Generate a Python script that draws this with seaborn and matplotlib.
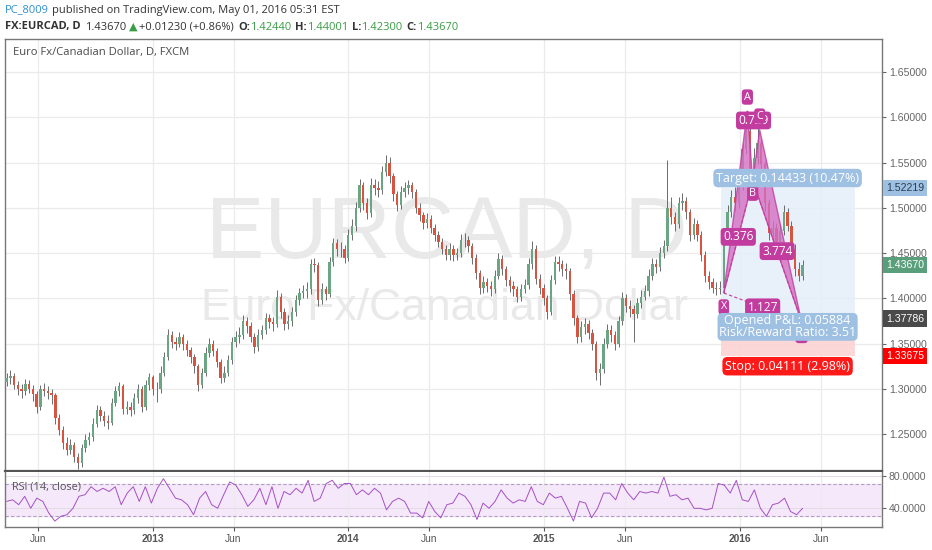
import numpy as np
import pandas as pd
import seaborn as sns
import matplotlib.pyplot as plt
import matplotlib.dates as mdates
import matplotlib.transforms as mtransforms
from matplotlib.patches import Rectangle, Polygon

# weekly candles
first_week = "2012-04-04"
first_open = 1.308
closes = [
    1.312, 1.315, 1.305, 1.300, 1.298, 1.306, 1.300, 1.295, 1.280, 1.300,
    1.298, 1.296, 1.293, 1.268, 1.255, 1.240, 1.233, 1.238, 1.225, 1.218,
    1.235, 1.244, 1.247, 1.262, 1.277, 1.270, 1.265, 1.263, 1.285, 1.298,
    1.303, 1.278, 1.280, 1.277, 1.290, 1.300, 1.280, 1.305, 1.313, 1.300,
    1.300, 1.318, 1.335, 1.360, 1.352, 1.350, 1.357, 1.350, 1.343, 1.335,
    1.325, 1.305, 1.318, 1.340, 1.350, 1.342, 1.330, 1.312, 1.318, 1.332,
    1.352, 1.358, 1.360, 1.375, 1.370, 1.358, 1.346, 1.360, 1.365, 1.378,
    1.374, 1.372, 1.402, 1.385, 1.372, 1.375, 1.385, 1.398, 1.406, 1.408,
    1.410, 1.438, 1.437, 1.398, 1.410, 1.405, 1.440, 1.461, 1.455, 1.455,
    1.445, 1.470, 1.480, 1.500, 1.525, 1.505, 1.494, 1.525, 1.522, 1.520,
    1.540, 1.550, 1.535, 1.515, 1.503, 1.518, 1.522, 1.525, 1.518, 1.500,
    1.492, 1.483, 1.488, 1.478, 1.470, 1.462, 1.455, 1.448, 1.455, 1.448,
    1.450, 1.465, 1.465, 1.458, 1.445, 1.428, 1.412, 1.418, 1.414, 1.410,
    1.425, 1.444, 1.432, 1.420, 1.414, 1.410, 1.402, 1.410, 1.415, 1.438,
    1.455, 1.422, 1.412, 1.400, 1.385, 1.420, 1.440, 1.438, 1.432, 1.430,
    1.405, 1.378, 1.358, 1.368, 1.372, 1.362, 1.350, 1.318, 1.322, 1.350,
    1.365, 1.360, 1.350, 1.375, 1.400, 1.392, 1.388, 1.383, 1.395, 1.402,
    1.408, 1.425, 1.438, 1.435, 1.450, 1.458, 1.500, 1.490, 1.482, 1.505,
    1.508, 1.495, 1.470, 1.482, 1.470, 1.448, 1.425, 1.418, 1.412, 1.410,
    1.412, 1.468, 1.495, 1.512, 1.505, 1.525, 1.565, 1.585, 1.540, 1.555,
    1.572, 1.548, 1.505, 1.472, 1.478, 1.462, 1.475, 1.495, 1.480, 1.455,
    1.432, 1.425, 1.4367,
]
highs = [
    1.318, 1.321, 1.318, 1.309, 1.306, 1.311, 1.310, 1.304, 1.298, 1.305,
    1.307, 1.303, 1.300, 1.296, 1.272, 1.259, 1.247, 1.245, 1.242, 1.229,
    1.239, 1.250, 1.253, 1.268, 1.282, 1.281, 1.276, 1.271, 1.290, 1.303,
    1.308, 1.306, 1.287, 1.286, 1.296, 1.306, 1.303, 1.310, 1.318, 1.316,
    1.308, 1.325, 1.341, 1.366, 1.364, 1.358, 1.363, 1.361, 1.354, 1.347,
    1.339, 1.328, 1.323, 1.346, 1.356, 1.354, 1.345, 1.333, 1.326, 1.338,
    1.357, 1.364, 1.368, 1.382, 1.380, 1.374, 1.362, 1.366, 1.371, 1.384,
    1.383, 1.380, 1.409, 1.406, 1.389, 1.382, 1.391, 1.404, 1.412, 1.415,
    1.418, 1.444, 1.445, 1.440, 1.417, 1.414, 1.446, 1.467, 1.466, 1.462,
    1.459, 1.477, 1.488, 1.507, 1.532, 1.529, 1.511, 1.533, 1.532, 1.530,
    1.546, 1.558, 1.556, 1.538, 1.519, 1.524, 1.529, 1.531, 1.529, 1.521,
    1.505, 1.496, 1.494, 1.492, 1.482, 1.474, 1.467, 1.459, 1.461, 1.459,
    1.456, 1.471, 1.472, 1.469, 1.461, 1.449, 1.431, 1.425, 1.423, 1.419,
    1.431, 1.450, 1.448, 1.436, 1.425, 1.419, 1.414, 1.416, 1.422, 1.445,
    1.463, 1.459, 1.427, 1.416, 1.404, 1.426, 1.447, 1.447, 1.443, 1.439,
    1.434, 1.409, 1.382, 1.375, 1.378, 1.376, 1.366, 1.353, 1.329, 1.356,
    1.372, 1.371, 1.364, 1.381, 1.407, 1.405, 1.398, 1.393, 1.401, 1.409,
    1.415, 1.432, 1.445, 1.444, 1.457, 1.465, 1.553, 1.512, 1.496, 1.512,
    1.516, 1.512, 1.499, 1.489, 1.487, 1.474, 1.452, 1.430, 1.423, 1.418,
    1.419, 1.474, 1.503, 1.520, 1.523, 1.532, 1.572, 1.607, 1.590, 1.566,
    1.589, 1.576, 1.552, 1.510, 1.485, 1.483, 1.481, 1.503, 1.500, 1.485,
    1.460, 1.440, 1.4425,
]
lows = [
    1.303, 1.306, 1.300, 1.294, 1.290, 1.293, 1.296, 1.287, 1.274, 1.277,
    1.292, 1.289, 1.284, 1.262, 1.249, 1.234, 1.227, 1.228, 1.219, 1.212,
    1.214, 1.231, 1.238, 1.243, 1.258, 1.265, 1.259, 1.256, 1.260, 1.281,
    1.292, 1.272, 1.273, 1.270, 1.272, 1.285, 1.275, 1.277, 1.299, 1.294,
    1.286, 1.296, 1.314, 1.332, 1.345, 1.343, 1.346, 1.343, 1.337, 1.329,
    1.318, 1.298, 1.301, 1.315, 1.335, 1.336, 1.324, 1.307, 1.308, 1.314,
    1.328, 1.347, 1.351, 1.355, 1.362, 1.352, 1.340, 1.342, 1.355, 1.361,
    1.367, 1.364, 1.368, 1.378, 1.365, 1.366, 1.370, 1.381, 1.393, 1.400,
    1.401, 1.405, 1.429, 1.392, 1.394, 1.398, 1.402, 1.436, 1.447, 1.446,
    1.439, 1.441, 1.465, 1.475, 1.496, 1.498, 1.488, 1.490, 1.514, 1.512,
    1.515, 1.535, 1.528, 1.508, 1.497, 1.499, 1.512, 1.515, 1.511, 1.494,
    1.486, 1.477, 1.478, 1.472, 1.464, 1.457, 1.449, 1.442, 1.443, 1.441,
    1.442, 1.446, 1.457, 1.451, 1.438, 1.421, 1.405, 1.406, 1.407, 1.403,
    1.406, 1.421, 1.426, 1.414, 1.407, 1.403, 1.396, 1.397, 1.406, 1.411,
    1.433, 1.416, 1.405, 1.393, 1.377, 1.382, 1.416, 1.430, 1.425, 1.422,
    1.398, 1.371, 1.351, 1.352, 1.361, 1.355, 1.343, 1.310, 1.305, 1.318,
    1.345, 1.352, 1.343, 1.346, 1.371, 1.385, 1.380, 1.352, 1.378, 1.390,
    1.398, 1.403, 1.420, 1.428, 1.430, 1.445, 1.452, 1.482, 1.475, 1.478,
    1.498, 1.488, 1.463, 1.466, 1.463, 1.441, 1.418, 1.411, 1.406, 1.404,
    1.405, 1.406, 1.462, 1.490, 1.497, 1.500, 1.520, 1.560, 1.530, 1.532,
    1.548, 1.540, 1.497, 1.465, 1.462, 1.455, 1.457, 1.470, 1.474, 1.449,
    1.425, 1.419, 1.420,
]

rsi_values = [
    48.6, 50.6, 44.5, 55, 40, 52.7, 48.6, 34, 24, 30, 32, 40, 55, 57, 67, 61, 65,
    61, 67, 44.5, 59, 67, 48.6, 67, 46.5, 65, 77, 65, 52.7, 50.6, 44.5, 32, 52.7,
    61, 44.5, 40, 57, 73, 69, 57, 42.4, 50.6, 65, 44.5, 67, 40, 61, 57, 65, 59,
    75, 48.6, 52.7, 71, 75, 65, 71, 71, 57, 63, 57, 65, 59, 38, 48.6, 52.7, 48.6,
    34, 34, 28, 48.6, 36, 28, 44.5, 46.5, 59, 55, 44.5, 26, 46.5, 40, 48.6, 63,
    52.7, 46.5, 50.6, 48.6, 67, 48.6, 44.5, 59, 52.7, 55, 40, 24, 48.6, 46.5, 28,
    40, 59, 59, 50.6, 71, 59, 50.6, 61, 59, 61, 59, 79, 55, 57, 50.6, 52.7, 40,
    40, 38, 40, 71, 69, 59, 75, 50.6, 48.6, 63, 40, 30, 44.5, 46.5, 52.7, 36, 32,
    40,
]

pattern_names = ["X", "A", "B", "C", "D"]
pattern_dates = ["2015-12-02", "2016-01-15", "2016-01-25", "2016-02-07", "2016-04-25"]
pattern_prices = [1.4060, 1.6070, 1.5300, 1.5860, 1.3745]
ratio_pairs = [("X", "B"), ("A", "C"), ("B", "D"), ("X", "D")]
ratio_labels = ["0.376", "0.729", "3.774", "1.127"]

entry_price = 1.37786
target_price = 1.52219
stop_price = 1.33675
last_price = 1.43670
position_start = "2015-11-26"
position_end = "2016-08-02"

x_ticks = ["2012-06-01", "2013-01-01", "2013-06-01", "2014-01-01", "2014-06-01",
           "2015-01-01", "2015-06-01", "2016-01-01", "2016-06-01"]
x_tick_labels = ["Jun", "2013", "Jun", "2014", "Jun", "2015", "Jun", "2016", "Jun"]
price_ticks = [1.25, 1.30, 1.35, 1.40, 1.45, 1.50, 1.55, 1.60, 1.65]
rsi_ticks = [40, 80]

sns.set_theme(style="white")
plt.rcParams["font.family"] = ["Open Sans", "DejaVu Sans"]

W, H = 932, 550
fig = plt.figure(figsize=(W / 100, H / 100), dpi=100, facecolor="white")
ax = fig.add_axes([5 / W, (H - 471) / H, 877 / W, 432 / H])
ax_rsi = fig.add_axes([5 / W, (H - 527) / H, 877 / W, 55 / H], sharex=ax)

dates = pd.date_range(first_week, periods=len(closes), freq="W-WED")
d = mdates.date2num(dates)
c = np.array(closes)
o = np.array([first_open] + closes[:-1])
hi = np.array(highs)
lo = np.array(lows)
up = c >= o

xmin = mdates.date2num(pd.Timestamp("2012-04-01"))
xmax = mdates.date2num(pd.Timestamp("2016-09-22"))
tick_nums = mdates.date2num(pd.to_datetime(x_ticks))

# ---- main price panel
ax.set_xlim(xmin, xmax)
ax.set_ylim(1.2096, 1.6864)
for t in tick_nums:
    ax.axvline(t, color="#ebebeb", lw=0.9, zorder=0)
for p in price_ticks:
    ax.axhline(p, color="#ebebeb", lw=0.9, zorder=0)

ax.text(0.504, 0.493, "EURCAD, D", transform=ax.transAxes, ha="center", va="baseline",
        fontsize=63, color="#e9e9e9", family="Liberation Sans", zorder=0.5)
ax.text(0.501, 0.35, "Euro Fx/Canadian Dollar", transform=ax.transAxes, ha="center",
        va="baseline", fontsize=32, color="#e9e9e9", family="Liberation Sans", zorder=0.5)

# long position tool
ps = mdates.date2num(pd.Timestamp(position_start))
pe = mdates.date2num(pd.Timestamp(position_end))
ax.add_patch(Rectangle((ps, entry_price), pe - ps, target_price - entry_price,
                       facecolor="#e4eef8", edgecolor="none", alpha=0.85, zorder=1))
ax.add_patch(Rectangle((ps, stop_price), pe - ps, entry_price - stop_price,
                       facecolor="#fbd3d3", edgecolor="none", alpha=0.9, zorder=1))

ax.vlines(d, lo, hi, color="#555555", lw=0.6, zorder=2)
ax.bar(d[up], (c - o)[up], bottom=o[up], width=4.4, color="#6ba583", linewidth=0, zorder=3)
ax.bar(d[~up], (c - o)[~up], bottom=o[~up], width=4.4, color="#d75442", linewidth=0, zorder=3)

# harmonic pattern
pink = "#c23c9f"
pts = {n: (mdates.date2num(pd.Timestamp(dt)), pr)
       for n, dt, pr in zip(pattern_names, pattern_dates, pattern_prices)}
for tri in [("X", "A", "B"), ("B", "C", "D")]:
    ax.add_patch(Polygon([pts[n] for n in tri], closed=True, facecolor="#d46fc2",
                         edgecolor=pink, lw=1.0, alpha=0.8, zorder=4))
for (a, b), lab in zip(ratio_pairs, ratio_labels):
    xa, ya = pts[a]
    xb, yb = pts[b]
    ax.plot([xa, xb], [ya, yb], color=pink, lw=0.8, ls=(0, (3, 2)), zorder=4)
    ax.text((xa + xb) / 2, (ya + yb) / 2, lab, ha="center", va="center", fontsize=8.6,
            color="white", zorder=6,
            bbox=dict(boxstyle="round,pad=0.2,rounding_size=0.3", fc=pink, ec="none"))
label_offsets = {"X": -10, "A": 10, "B": -9, "C": 10, "D": -10}
for n in pattern_names:
    ax.annotate(n, pts[n], xytext=(0, label_offsets[n]), textcoords="offset points",
                ha="center", va="center", fontsize=7.8, color="white", zorder=6,
                bbox=dict(boxstyle="round,pad=0.2,rounding_size=0.3", fc=pink, ec="none"))

pc = (ps + pe) / 2
ax.annotate("Target: 0.14433 (10.47%)", (pc, target_price), xytext=(0, 7),
            textcoords="offset points", ha="center", va="center", fontsize=9,
            color="white", zorder=7,
            bbox=dict(boxstyle="round,pad=0.22,rounding_size=0.4", fc="#9ec0e2", ec="none"))
ax.annotate("Opened P&L: 0.05884\nRisk/Reward Ratio: 3.51", (pc, entry_price),
            xytext=(0, -6), textcoords="offset points", ha="center", va="center",
            fontsize=9, color="white", linespacing=0.88, zorder=7,
            bbox=dict(boxstyle="round,pad=0.12,rounding_size=0.4", fc="#9ec0e2", ec="none"))
ax.annotate("Stop: 0.04111 (2.98%)", (pc, stop_price), xytext=(0, -7.5),
            textcoords="offset points", ha="center", va="center", fontsize=9,
            color="white", zorder=7,
            bbox=dict(boxstyle="round,pad=0.22,rounding_size=0.4", fc="#ff1a1a", ec="none"))

ax.yaxis.tick_right()
ax.set_yticks(price_ticks)
ax.set_yticklabels([f"{p:.5f}" for p in price_ticks])
ax.tick_params(axis="y", length=3, width=0.8, colors="#666666", labelsize=7.6, pad=2,
               direction="out", right=True)
ax.tick_params(axis="x", length=0, labelbottom=False)
for lab in ax.get_yticklabels():
    lab.set_family("Liberation Sans")
for side, sp in ax.spines.items():
    sp.set_color("#777777")
    sp.set_linewidth(1.0)
ax.spines["bottom"].set_linewidth(1.6)
ax.spines["bottom"].set_color("#555555")

side_tr = mtransforms.blended_transform_factory(ax.transAxes, ax.transData)
for price, fc, tc in [(target_price, "#9ec0e2", "#2c3e50"), (last_price, "#5a9f7c", "white"),
                      (entry_price, "#4a4a4a", "white"), (stop_price, "#ff0000", "white")]:
    ax.text(1.0 + 4 / 877, price, f"{price:.5f}", transform=side_tr, ha="left", va="center",
            fontsize=7.6, color=tc, family="Liberation Sans", zorder=8,
            bbox=dict(boxstyle="square,pad=0.3", fc=fc, ec="none"))

ax.text(8 / 877, (471 - 53) / 432, "Euro Fx/Canadian Dollar, D, FXCM", transform=ax.transAxes,
        ha="left", va="center", fontsize=8.1, color="#4a4a4a")

# ---- RSI panel
ax_rsi.set_ylim(16.6, 85.4)
ax_rsi.axhspan(30, 70, color="#f4e8fa", zorder=0)
for r in rsi_ticks:
    ax_rsi.axhline(r, color="#e3dbe6", lw=0.8, zorder=0.5)
for t in tick_nums:
    ax_rsi.axvline(t, color="#ebebeb", lw=0.9, zorder=0.3)
for r in [70, 30]:
    ax_rsi.axhline(r, color="#b39bc2", lw=0.8, ls=(0, (3, 2)), zorder=1)
rsi_x = np.linspace(d[0], d[-1], len(rsi_values))
sns.lineplot(x=rsi_x, y=rsi_values, ax=ax_rsi, color="#a650c4", lw=0.7, zorder=2)
ax_rsi.text(7 / 877, 0.73, "RSI (14, close)", transform=ax_rsi.transAxes, ha="left",
            va="center", fontsize=7.8, color="#555555")
ax_rsi.yaxis.tick_right()
ax_rsi.set_yticks(rsi_ticks)
ax_rsi.set_yticklabels([f"{r:.4f}" for r in rsi_ticks])
ax_rsi.tick_params(axis="y", length=3, width=0.8, colors="#666666", labelsize=7.6, pad=2,
                   direction="out", right=True)
for lab in ax_rsi.get_yticklabels():
    lab.set_family("Liberation Sans")
ax_rsi.set_xticks(tick_nums)
ax_rsi.set_xticklabels(x_tick_labels)
ax_rsi.tick_params(axis="x", length=3, width=0.8, colors="#555555", labelsize=7.4, pad=2,
                   direction="out", bottom=True)
for lab in ax_rsi.get_xticklabels():
    lab.set_family("Liberation Sans")
    if lab.get_text().isdigit():
        lab.set_fontweight("bold")
ax_rsi.set_xlabel("")
ax_rsi.set_ylabel("")
for side, sp in ax_rsi.spines.items():
    sp.set_color("#777777")
    sp.set_linewidth(1.0)
ax_rsi.spines["top"].set_visible(False)

# ---- header
renderer = fig.canvas.get_renderer()


def draw_pieces(x_px, y_px, pieces, size):
    for text, color, weight, gap in pieces:
        t = fig.text(x_px / W, 1 - y_px / H, text, color=color, fontsize=size,
                     fontweight=weight, ha="left", va="center")
        x_px += t.get_window_extent(renderer=renderer).width + gap


green = "#3a9d46"
dark = "#333333"
draw_pieces(5, 10, [("PC_8009", "#2e8fce", "normal", 3.5),
                    ("published on TradingView.com, May 01, 2016 05:31 EST", dark, "normal", 0)], 8)
draw_pieces(5, 27, [("FX:EURCAD, D", dark, "bold", 4),
                    ("1.43670", dark, "normal", 3),
                    ("▲", green, "normal", 2),
                    ("+0.01230 (+0.86%)", dark, "normal", 4),
                    ("O:", dark, "bold", 0), ("1.42440", green, "normal", 4),
                    ("H:", dark, "bold", 0), ("1.44001", green, "normal", 4),
                    ("L:", dark, "bold", 0), ("1.42300", green, "normal", 4),
                    ("C:", dark, "bold", 0), ("1.43670", green, "normal", 0)], 8)

fig.savefig("out.png", dpi=100, facecolor=fig.get_facecolor())
